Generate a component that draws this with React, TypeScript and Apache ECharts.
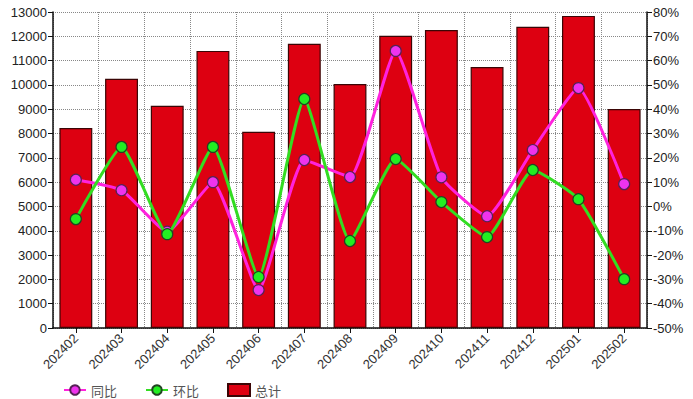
import React, { useEffect, useRef } from "react";
import * as echarts from "echarts";

const categories = ["202402","202403","202404","202405","202406","202407","202408","202409","202410","202411","202412","202501","202502"];
const totalValues = [8230, 10250, 9140, 11400, 8070, 11690, 10040, 12020, 12260, 10740, 12390, 12840, 9010];
const yoyValues = [11, 6.7, -10.4, 10, -34.4, 19.1, 12.1, 64, 12, -4, 23.2, 48.7, 9.2];
const momValues = [-5.2, 24.5, -11.4, 24.5, -29, 44.2, -14.2, 19.5, 1.8, -12.6, 15, 3, -29.9];
const leftTicks = { min: 0, max: 13000, interval: 1000 };
const rightTicks = { min: -50, max: 80, interval: 10 };

export default function App() {
  const ref = useRef<HTMLDivElement>(null);
  useEffect(() => {
    if (!ref.current) return;
    const chart = echarts.init(ref.current, null, { renderer: "svg" });
    const font = "Arial, 'Liberation Sans', sans-serif";
    chart.setOption({
      animation: false,
      backgroundColor: "#ffffff",
      grid: { left: 53, right: 46, top: 12, bottom: 71, containLabel: false },
      legend: {
        left: 58,
        top: 378,
        itemGap: 28,
        itemWidth: 22,
        itemHeight: 12,
        textStyle: { color: "#555", fontSize: 13, fontFamily: "'Noto Sans CJK SC', sans-serif" },
        data: ["同比", "环比", { name: "总计", icon: "rect" }],
      },
      xAxis: {
        type: "category",
        data: categories,
        boundaryGap: true,
        axisLine: { lineStyle: { color: "#111", width: 1.5 } },
        axisTick: { show: true, alignWithLabel: true, length: 5, lineStyle: { color: "#111" } },
        axisLabel: { rotate: 45, color: "#333", fontSize: 13, fontFamily: font, margin: 8, interval: 0 },
        splitLine: { show: true, interval: 0, lineStyle: { color: "#888", type: "dotted", width: 1 } },
      },
      yAxis: [
        {
          type: "value",
          min: leftTicks.min,
          max: leftTicks.max,
          interval: leftTicks.interval,
          axisLine: { show: true, lineStyle: { color: "#111", width: 1.5 } },
          axisTick: { show: true, length: 5, lineStyle: { color: "#111" } },
          axisLabel: { color: "#222", fontSize: 13, fontFamily: font, margin: 6, formatter: (v: number) => String(v) },
          splitLine: { show: true, lineStyle: { color: "#888", type: "dotted", width: 1 } },
        },
        {
          type: "value",
          min: rightTicks.min,
          max: rightTicks.max,
          interval: rightTicks.interval,
          position: "right",
          axisLine: { show: true, lineStyle: { color: "#111", width: 1.5 } },
          axisTick: { show: true, length: 5, lineStyle: { color: "#111" } },
          axisLabel: { color: "#222", fontSize: 13, fontFamily: font, margin: 6, formatter: "{value}%" },
          splitLine: { show: false },
        },
      ],
      series: [
        {
          name: "总计",
          type: "bar",
          data: totalValues,
          barWidth: "72%",
          itemStyle: { color: "#dd0011", borderColor: "#3a0505", borderWidth: 1.2 },
          z: 1,
        },
        {
          name: "同比",
          type: "line",
          yAxisIndex: 1,
          data: yoyValues,
          smooth: 0.15,
          symbol: "circle",
          symbolSize: 11,
          lineStyle: { color: "#ff22dd", width: 3 },
          itemStyle: { color: "#ee33ee", borderColor: "#552255", borderWidth: 1.2 },
          z: 3,
        },
        {
          name: "环比",
          type: "line",
          yAxisIndex: 1,
          data: momValues,
          smooth: 0.15,
          symbol: "circle",
          symbolSize: 11,
          lineStyle: { color: "#33dd22", width: 3 },
          itemStyle: { color: "#22ee22", borderColor: "#224422", borderWidth: 1.2 },
          z: 4,
        },
      ],
    });
    return () => chart.dispose();
  }, []);
  return <div ref={ref} style={{ width: 693, height: 399, position: "absolute", left: 0, top: 0 }} />;
}
